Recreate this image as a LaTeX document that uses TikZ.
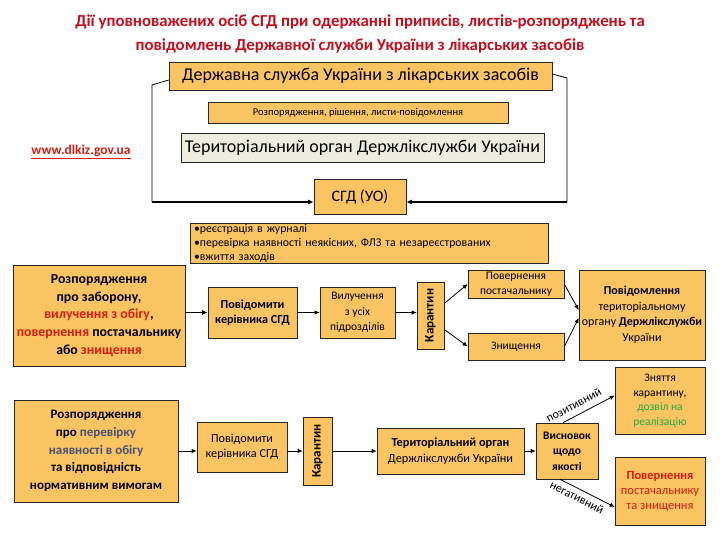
\documentclass[tikz,border=0pt]{standalone}
\usepackage{fontspec}
\setmainfont{Carlito}
\usetikzlibrary{arrows.meta,calc}
\definecolor{boxor}{RGB}{250,196,98}
\definecolor{boxgr}{RGB}{238,236,225}
\definecolor{titred}{RGB}{196,14,28}
\definecolor{redt}{RGB}{215,30,20}
\definecolor{bluet}{RGB}{70,80,115}
\definecolor{greent}{RGB}{40,170,60}
\newcommand\myfs[2]{\fontsize{#1}{#2}\selectfont}
\begin{document}
\begin{tikzpicture}[x=1pt,y=-1pt,
  box/.style={draw=black!85, line width=0.6pt, fill=boxor, inner sep=1pt, align=center},
  gbox/.style={box, fill=boxgr},
  arr/.style={-{Latex[length=5pt,width=4.5pt]}, line width=0.8pt},
  tarr/.style={-{Latex[length=5.5pt,width=5pt]}, line width=1.6pt},
  frame/.style={line width=0.8pt},
  lbl/.style={font=\myfs{12}{13}, inner sep=1pt}
]
\useasboundingbox (0,0) rectangle (720,540);

% title
\node[font=\bfseries\myfs{16.8}{23.5}, text=titred, align=center] (title) at (360,34)
  {Дії уповноважених осіб СГД при одержанні приписів, листів-розпоряджень та\\
   повідомлень Державної служби України з лікарських засобів};

% top section
\node[box, minimum width=383, minimum height=28, font=\myfs{18}{20}] (top) at (360.5,76)
  {Державна служба України з лікарських засобів};
\node[box, minimum width=300, minimum height=21, font=\myfs{10.5}{12}] (rozp) at (358,112.5)
  {Розпорядження, рішення, листи-повідомлення};
\node[gbox, minimum width=363, minimum height=29, font=\myfs{18}{20}] (ter1) at (362.5,147.5)
  {Територіальний орган Держлікслужби України};
\node[box, minimum width=92, minimum height=35, font=\myfs{16}{18}] (sgd) at (360,197)
  {СГД (УО)};
\node[font=\bfseries\myfs{13.5}{15}, text=redt] (www) at (81,152) {\underline{www.dlkiz.gov.ua}};

% frame lines
\coordinate (cl1) at (152,85);
\coordinate (cl) at (152,202);
\coordinate (cr1) at (567,78);
\coordinate (cr) at (567,202);
\draw[frame] ([yshift=-4pt]top.west) -- (cl1) -- (cl);
\draw[frame] ([yshift=2pt]top.east) -- (cr1) -- (cr);
\draw[tarr] (cl) -- (cl -| sgd.west);
\draw[tarr] (cr) -- (cr -| sgd.east);

% bullets
\node[box, minimum width=358, minimum height=40, align=left, anchor=center,
      font=\myfs{11.8}{14}, text width=350] (bul) at (369,243)
  {•реєстрація в журналі\\
   •перевірка наявності неякісних, ФЛЗ та незареєстрованих\\
   •вжиття заходів};

% upper chain
\node[box, minimum width=172, minimum height=101, font=\bfseries\myfs{13.8}{17.6}] (L1) at (99,315.5)
  {Розпорядження\\
   про заборону,\\
   \textcolor{redt}{вилучення з обігу},\\
   \textcolor{redt}{повернення} постачальнику\\
   або \textcolor{redt}{знищення}};
\node[box, minimum width=89, minimum height=51, font=\bfseries\myfs{12.2}{15.5}] (pov1) at (252.5,312.5)
  {Повідомити\\керівника СГД};
\node[box, minimum width=75, minimum height=51, font=\myfs{11.5}{15.5}] (vyl) at (357.5,312.5)
  {Вилучення\\з усіх\\підрозділів};
\node[box, minimum width=27, minimum height=67,
      label={[rotate=90, font=\bfseries\myfs{13}{15}]center:Карантин}] (kar1) at (430.5,315.5) {};
\node[box, minimum width=96, minimum height=28, font=\myfs{11.5}{14.5}] (povern) at (516,284)
  {Повернення\\постачальнику};
\node[box, minimum width=96, minimum height=27, font=\myfs{11.5}{14}] (znysh) at (516,346.5)
  {Знищення};
\node[box, minimum width=126, minimum height=90, font=\myfs{12}{15.5}] (povid) at (642,315)
  {\textbf{Повідомлення}\\територіальному\\органу \textbf{Держлікслужби}\\України};

\draw[tarr] (L1.east |- pov1) -- (pov1.west);
\draw[arr] (pov1.east) -- (vyl.west);
\draw[arr] (vyl.east) -- (vyl.east -| kar1.west);
\draw[arr] ([yshift=12pt]kar1.east) -- (povern.west);
\draw[arr] ([yshift=-14pt]kar1.east) -- (znysh.west);
\draw[arr] (povern.east) -- ([yshift=5pt]povid.west);
\draw[arr] (znysh.east) -- ([yshift=-3pt]povid.west);

% lower chain
\node[box, minimum width=164, minimum height=102, font=\bfseries\myfs{13}{17.6}] (L2) at (96,451)
  {Розпорядження\\
   про \textcolor{bluet}{перевірку}\\
   \textcolor{bluet}{наявності в обігу}\\
   та відповідність\\
   нормативним вимогам};
\node[box, minimum width=90, minimum height=50, font=\myfs{12.2}{15.5}] (pov2) at (242,447)
  {Повідомити\\керівника СГД};
\node[box, minimum width=29, minimum height=68,
      label={[rotate=90, font=\bfseries\myfs{13}{15}]center:Карантин}] (kar2) at (317.5,451) {};
\node[box, minimum width=147, minimum height=46, font=\myfs{12.3}{16}] (ter2) at (450.5,451)
  {\textbf{Територіальний орган}\\Держлікслужби України};
\node[box, minimum width=62, minimum height=56, font=\bfseries\myfs{11.5}{15.5}] (vysn) at (567,451)
  {Висновок\\щодо\\якості};
\node[box, minimum width=90, minimum height=67, font=\myfs{11.5}{14.5}] (znyat) at (660,400.5)
  {Зняття\\карантину,\\\textcolor{greent}{дозвіл на}\\\textcolor{greent}{реалізацію}};
\node[box, minimum width=90, minimum height=68, font=\myfs{12.5}{15}, text=redt] (povzn) at (660,491)
  {\textbf{Повернення}\\постачальнику\\та знищення};

\draw[arr] (L2.east) -- (L2.east -| pov2.west);
\draw[arr] (pov2.east |- kar2) -- (kar2.west);
\draw[arr] (kar2.east) -- (ter2.west);
\draw[arr] (ter2.east) -- (vysn.west);
\draw[arr] ([xshift=-4pt]vysn.north) -- node[lbl, sloped, above=5pt, pos=0.3] {позитивний} ([yshift=5pt]znyat.west);
\draw[arr] ([xshift=-7pt]vysn.south) -- node[lbl, sloped, below=3pt, pos=0.38] {негативний} ([yshift=-16pt]povzn.west);
\end{tikzpicture}
\end{document}
